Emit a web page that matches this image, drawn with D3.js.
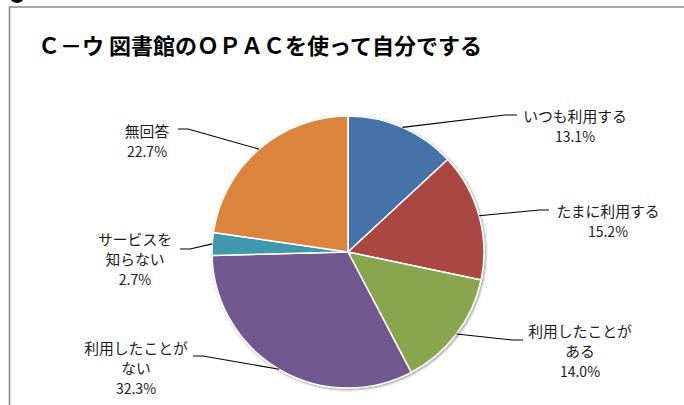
<!DOCTYPE html>
<html><head><meta charset="utf-8">
<script src="https://cdn.jsdelivr.net/npm/d3@7"></script>
<style>
html,body{margin:0;padding:0;background:#fff;}
svg{display:block;}
</style></head>
<body>
<script>
// ---- data ----
const titleText = "Ｃ－ウ 図書館のＯＰＡＣを使って自分でする";
const categories = ["いつも利用する", "たまに利用する", "利用したことがある", "利用したことがない", "サービスを知らない", "無回答"];
const labelLines = [["いつも利用する"], ["たまに利用する"], ["利用したことが", "ある"], ["利用したことが", "ない"], ["サービスを", "知らない"], ["無回答"]];
const values = [13.1, 15.2, 14.0, 32.3, 2.7, 22.7];
const colors = ["#4572A7", "#AA4643", "#89A54E", "#71588F", "#4198AF", "#DB843D"];

// ---- layout (label placement, separate from data) ----
const labelLayout = [
  {tx: 575, ty: 115, kx: 505, ky: 115, ex: 517},
  {tx: 608, ty: 210, kx: 540, ky: 210, ex: 549},
  {tx: 580, ty: 330, kx: 513, ky: 340, ex: 523},
  {tx: 136, ty: 347, kx: 203, ky: 356, ex: 193},
  {tx: 135, ty: 238, kx: 190, ky: 249, ex: 180},
  {tx: 147, ty: 130, kx: 188, ky: 129, ex: 178}
];

const W = 684, H = 405;
const cx = 348, cy = 252, R = 136;
const font = "'Noto Sans CJK JP','Noto Sans',sans-serif";

const svg = d3.select("body").append("svg").attr("width", W).attr("height", H);

// frame
svg.append("ellipse").attr("cx", 17).attr("cy", -2).attr("rx", 6.5).attr("ry", 5).attr("fill", "#000");
svg.append("path").attr("d", `M9.5,${H} L9.5,7 L${W},7`).attr("fill", "none").attr("stroke", "#8a8a8a").attr("stroke-width", 1.6);

// title
svg.append("text").attr("x", 38).attr("y", 44).attr("dominant-baseline", "central")
  .attr("font-family", font).attr("font-weight", "bold").attr("font-size", 22)
  .attr("fill", "#000").text(titleText);

// shadow filter
const defs = svg.append("defs");
const f = defs.append("filter").attr("id", "sh").attr("x", "-10%").attr("y", "-10%").attr("width", "120%").attr("height", "120%");
f.append("feGaussianBlur").attr("in", "SourceAlpha").attr("stdDeviation", 1.5).attr("result", "b");
f.append("feOffset").attr("in", "b").attr("dx", 1).attr("dy", 1).attr("result", "o");
f.append("feComponentTransfer").attr("in", "o").attr("result", "o2").append("feFuncA").attr("type", "linear").attr("slope", 0.45);
const m = f.append("feMerge");
m.append("feMergeNode").attr("in", "o2");
m.append("feMergeNode").attr("in", "SourceGraphic");

const pie = d3.pie().sort(null).value(d => d);
const arcs = pie(values);
const arc = d3.arc().innerRadius(0).outerRadius(R);

const g = svg.append("g").attr("transform", `translate(${cx},${cy})`);
const pg = g.append("g").attr("filter", "url(#sh)");
pg.selectAll("path").data(arcs).enter().append("path")
  .attr("d", arc).attr("fill", (d, i) => colors[i])
  .attr("stroke", "#fff").attr("stroke-width", 1.5).attr("stroke-linejoin", "round");

// leader lines + labels
arcs.forEach((d, i) => {
  const mid = (d.startAngle + d.endAngle) / 2;
  const px = cx + R * Math.sin(mid), py = cy - R * Math.cos(mid);
  const L = labelLayout[i];
  svg.append("polyline")
    .attr("points", `${px},${py} ${L.kx},${L.ky} ${L.ex},${L.ky}`)
    .attr("fill", "none").attr("stroke", "#000").attr("stroke-width", 1.1);
  const lines = labelLines[i].concat([values[i].toFixed(1) + "%"]);
  const t = svg.append("text").attr("font-family", font).attr("fill", "#1a1a1a")
    .attr("text-anchor", "middle");
  lines.forEach((s, j) => {
    const isPct = j === lines.length - 1;
    t.append("tspan").attr("x", L.tx).attr("y", L.ty + j * 20.5)
      .attr("dominant-baseline", "central")
      .attr("font-size", isPct ? 14 : 14.8).text(s);
  });
});
</script>
</body></html>
